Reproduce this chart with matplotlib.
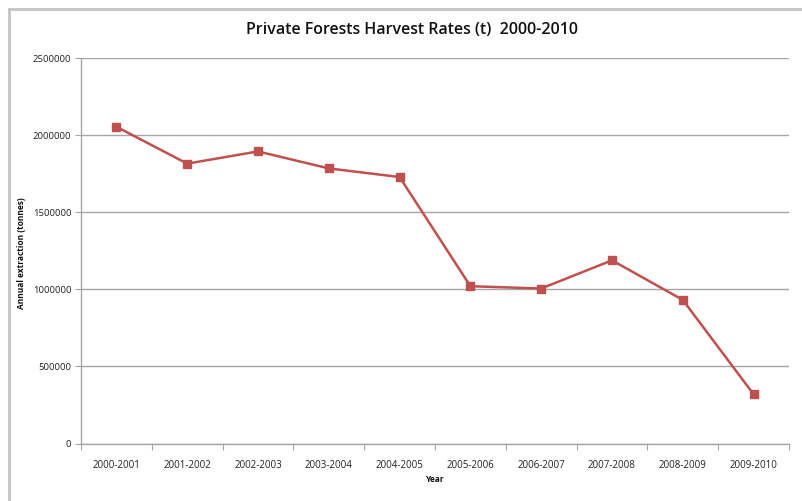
import matplotlib
matplotlib.use("Agg")
import matplotlib.pyplot as plt
from matplotlib.lines import Line2D

years = ["2000-2001", "2001-2002", "2002-2003", "2003-2004", "2004-2005",
         "2005-2006", "2006-2007", "2007-2008", "2008-2009", "2009-2010"]
harvest = [2054000, 1815000, 1894000, 1784000, 1728000,
           1020000, 1005000, 1188000, 931000, 319000]
yticks = [0, 500000, 1000000, 1500000, 2000000, 2500000]

plt.rcParams['font.family'] = ['Open Sans', 'DejaVu Sans']

W, H = 803, 501
fig = plt.figure(figsize=(W/100, H/100), dpi=100)
ax = fig.add_axes([81/W, 1-443.5/H, (789-81)/W, (443.5-58)/H])

x = list(range(len(years)))
ax.plot(x, harvest, color='#c0504d', lw=1.8, marker='s', markersize=5.5,
        markerfacecolor='#c0504d', markeredgecolor='#c0504d', zorder=3)

ax.set_xlim(-0.5, len(years)-0.5)
ax.set_ylim(0, 2500000)
ax.set_yticks(yticks)
ax.set_yticklabels([str(v) for v in yticks], fontsize=6.8, color='#222222')
ax.yaxis.grid(True, color='#a6a6a6', lw=1)
ax.set_axisbelow(True)

ax.set_xticks([i-0.5 for i in range(len(years)+1)])
ax.set_xticklabels([])
ax.set_xticks(x, minor=True)
ax.set_xticklabels(years, minor=True, fontsize=7, color='#222222')
ax.tick_params(axis='x', which='minor', length=0, pad=12)
ax.tick_params(axis='x', which='major', length=4, color='#a6a6a6', direction='out')
ax.tick_params(axis='y', length=4, color='#a6a6a6', direction='out', pad=3)

for s in ['top', 'right']:
    ax.spines[s].set_visible(False)
for s in ['left', 'bottom']:
    ax.spines[s].set_color('#a6a6a6')
    ax.spines[s].set_linewidth(1)

fig.text(412/W, 1-30/H, "Private Forests Harvest Rates (t)  2000-2010",
         ha='center', va='center', fontsize=11.5, fontweight='semibold', color='#111111')
fig.text(22/W, 1-253/H, "Annual extraction (tonnes)", rotation=90,
         ha='center', va='center', fontsize=6, fontweight='bold', color='#111111')
fig.text(435/W, 1-480/H, "Year", ha='center', va='center',
         fontsize=6, fontweight='bold', color='#111111')

# chart frame (top and left edges visible)
fig.add_artist(Line2D([9/W, 9/W], [0, 1-8.5/H], transform=fig.transFigure,
                      color='#c4c4c4', lw=2))
fig.add_artist(Line2D([9/W, 1], [1-8.5/H, 1-8.5/H], transform=fig.transFigure,
                      color='#c4c4c4', lw=2))

fig.savefig("out.png", dpi=100)
